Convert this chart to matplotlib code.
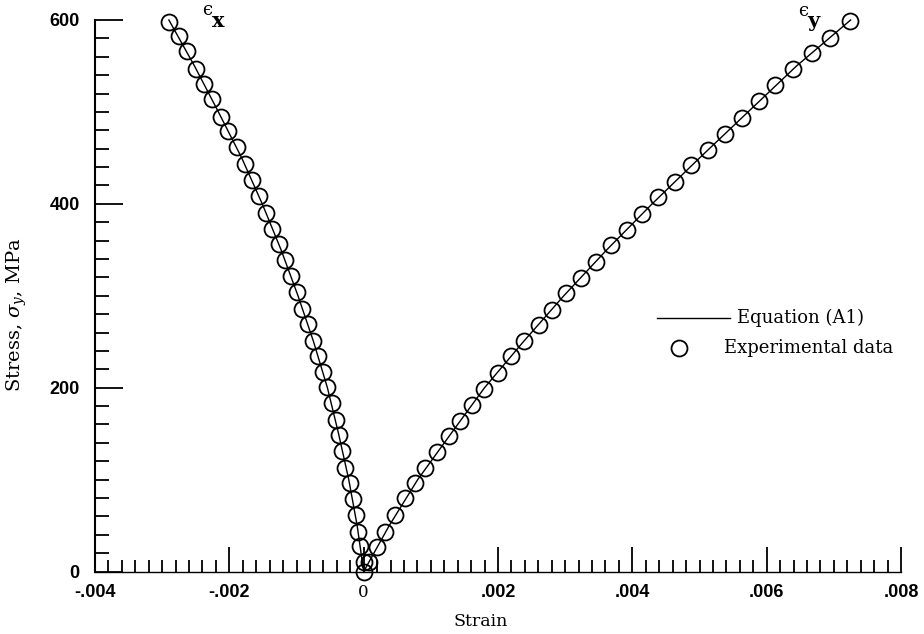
import numpy as np
import matplotlib.pyplot as plt
from matplotlib.ticker import MultipleLocator, FixedLocator

plt.rcParams['mathtext.fontset'] = 'dejavuserif'

ex_strain = [-0.002898, -0.002749, -0.002625, -0.002501, -0.002378, -0.002253,
             -0.002129, -0.002015, -0.001891, -0.001772, -0.001658, -0.001560,
             -0.001460, -0.001361, -0.001262, -0.001173, -0.001088, -0.000999,
             -0.000914, -0.000831, -0.000751, -0.000683, -0.000608, -0.000543,
             -0.000468, -0.000419, -0.000370, -0.000320, -0.000271, -0.000207,
             -0.000162, -0.000112, -0.000088, -0.000048, 0.0, 0.0]
ex_stress = [598, 583, 566, 547, 530, 514, 495, 479, 462, 443, 426, 409,
             390, 373, 356, 339, 322, 304, 286, 269, 251, 234, 217, 201,
             183, 165, 149, 131, 113, 96, 79, 61, 43, 28, 10, 0]

ey_strain = [0.000076, 0.000201, 0.000324, 0.000473, 0.000622, 0.000770,
             0.000919, 0.001093, 0.001265, 0.001439, 0.001613, 0.001796,
             0.001994, 0.002193, 0.002391, 0.002604, 0.002803, 0.003016,
             0.003239, 0.003462, 0.003685, 0.003918, 0.004150, 0.004388,
             0.004636, 0.004874, 0.005132, 0.005380, 0.005633, 0.005885,
             0.006123, 0.006391, 0.006674, 0.006941, 0.007239]
ey_stress = [10, 27, 43, 61, 80, 96, 113, 130, 147, 164, 181, 199,
             216, 234, 251, 268, 285, 303, 319, 337, 355, 372, 389, 407,
             424, 442, 459, 476, 493, 512, 529, 547, 564, 580, 599]

# Equation (A1) curves
eq_stress = [0, 50, 100, 150, 200, 250, 300, 350, 400, 450, 500, 550, 600]
eq_ex = [0.0, -0.000097, -0.000222, -0.000374, -0.00054, -0.000746, -0.000978,
         -0.00123, -0.00151, -0.001816, -0.002163, -0.002519, -0.0029]
eq_ey = [0.0, 0.000381, 0.000805, 0.0013, 0.0018, 0.002378, 0.00298,
         0.00362, 0.004295, 0.005002, 0.005723, 0.006445, 0.00725]

fig = plt.figure(figsize=(9.24, 6.34), dpi=100)
ax = fig.add_axes([95 / 924, 62.5 / 634, 806 / 924, 551.5 / 634])

ax.plot(eq_ex, eq_stress, color='black', lw=1.0, clip_on=False)
ax.plot(eq_ey, eq_stress, color='black', lw=1.0, clip_on=False)
mk = dict(ls='none', marker='o', ms=11.5, mfc='none', mec='black', mew=1.3, clip_on=False)
ax.plot(ex_strain, ex_stress, **mk)
ax.plot(ey_strain, ey_stress, **mk)

ax.set_xlim(-0.004, 0.008)
ax.set_ylim(0, 600)
for s in ['top', 'right']:
    ax.spines[s].set_visible(False)
ax.spines['left'].set_linewidth(1.5)
ax.spines['bottom'].set_linewidth(1.0)

ax.xaxis.set_major_locator(FixedLocator([-0.004, -0.002, 0, 0.002, 0.004, 0.006, 0.008]))
ax.xaxis.set_minor_locator(MultipleLocator(0.0002))
ax.yaxis.set_major_locator(FixedLocator([0, 200, 400, 600]))
ax.yaxis.set_minor_locator(MultipleLocator(20))
ax.set_xticklabels(['-.004', '-.002', '0', '.002', '.004', '.006', '.008'])
ax.set_yticklabels(['0', '200', '400', '600'])

ax.tick_params(axis='x', which='major', direction='in', length=18, width=1.3, pad=9)
ax.tick_params(axis='x', which='minor', direction='in', length=9, width=1.3)
ax.tick_params(axis='y', which='major', direction='in', length=20, width=1.3, pad=11)
ax.tick_params(axis='y', which='minor', direction='in', length=10, width=1.3)
for lab in ax.get_xticklabels() + ax.get_yticklabels():
    lab.set_fontfamily('Liberation Sans')
    lab.set_fontweight('bold')
    lab.set_fontsize(13)
ax.get_xticklabels()[2].set_fontfamily('DejaVu Serif')
ax.get_xticklabels()[2].set_fontweight('normal')
ax.get_xticklabels()[2].set_fontsize(12)

ax.set_xlabel('Strain', family='DejaVu Serif', fontsize=12.5)
ax.xaxis.set_label_coords(0.478, -0.075)
ax.set_ylabel(r'Stress, $\sigma_y$, MPa', family='DejaVu Serif', fontsize=14)
ax.yaxis.set_label_coords(-0.082, 0.465)

# curve labels
ax.text(-0.00233, 611, '\u03f5', family='DejaVu Serif', fontsize=13, va='center', ha='center')
ax.text(-0.00216, 599, 'x', family='DejaVu Serif', fontweight='bold', fontsize=15, va='center', ha='center')
ax.text(0.00654, 610, '\u03f5', family='DejaVu Serif', fontsize=13, va='center', ha='center')
ax.text(0.006700, 599, 'y', family='DejaVu Serif', fontweight='bold', fontsize=15, va='center', ha='center')

# legend drawn by hand
ax.plot([0.00436, 0.00546], [276, 276], color='black', lw=1.0)
ax.text(0.00556, 276, 'Equation (A1)', family='DejaVu Serif', fontsize=13, va='center')
ax.plot([0.00469], [243], **mk)
ax.text(0.00536, 243, 'Experimental data', family='DejaVu Serif', fontsize=13, va='center')

fig.savefig('out.png', dpi=100)
